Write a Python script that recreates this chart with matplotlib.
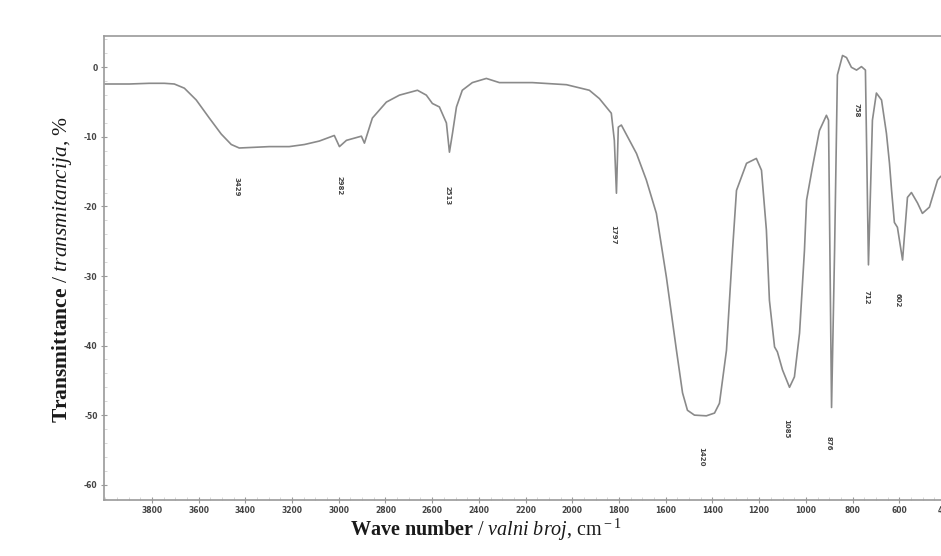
import matplotlib
matplotlib.use("Agg")
import matplotlib.pyplot as plt
from matplotlib.ticker import MultipleLocator

# IR spectrum: wave number (cm-1) and transmittance (%)
wavenumber = [
    4000, 3897, 3811, 3747, 3704, 3661, 3610, 3554, 3503, 3460, 3426,
    3361, 3297, 3212, 3147, 3083, 3019, 2997, 2967, 2903, 2890, 2856,
    2796, 2740, 2663, 2625, 2599, 2569, 2539, 2526, 2513, 2496, 2471,
    2428, 2368, 2312, 2171, 2025, 1927, 1884, 1833, 1820, 1811, 1803,
    1790, 1725, 1683, 1640, 1597, 1554, 1528, 1507, 1477, 1426, 1391,
    1370, 1340, 1314, 1297, 1254, 1212, 1190, 1169, 1156, 1134, 1122,
    1100, 1070, 1049, 1027, 1006, 997, 972, 942, 912, 903, 890,
    877, 865, 843, 826, 805, 783, 762, 745, 732, 715, 698,
    676, 655, 642, 633, 621, 608, 586, 565, 548, 522, 501,
    471, 436, 423,
]
transmittance = [
    -2.4, -2.4, -2.3, -2.3, -2.4, -3.0, -4.7, -7.3, -9.6, -11.1, -11.6,
    -11.5, -11.4, -11.4, -11.1, -10.6, -9.8, -11.4, -10.5, -9.9, -10.9, -7.3,
    -5.0, -4.0, -3.3, -4.0, -5.2, -5.7, -8.0, -12.2, -9.5, -5.7, -3.3,
    -2.2, -1.6, -2.2, -2.2, -2.5, -3.3, -4.5, -6.6, -10.5, -18.1, -8.6,
    -8.3, -12.4, -16.2, -21.0, -30.2, -40.7, -46.8, -49.3, -50.0, -50.1, -49.7,
    -48.3, -40.7, -26.3, -17.7, -13.8, -13.1, -14.8, -23.4, -33.5, -40.2, -40.9,
    -43.5, -46.0, -44.5, -38.2, -26.3, -19.1, -14.4, -9.1, -6.9, -7.6, -48.9,
    -26.3, -1.1, 1.7, 1.4, 0.0, -0.4, 0.1, -0.4, -28.4, -7.6, -3.7,
    -4.7, -9.5, -13.8, -17.7, -22.3, -23.0, -27.7, -18.7, -18.0, -19.5, -21.0,
    -20.1, -16.2, -15.7,
]

# peak labels and where they sit (wave number, transmittance)
peak_labels = ["3429", "2982", "2513", "1797", "1420", "1085", "876", "758", "712", "602"]
peak_label_x = [3439, 2997, 2535, 1824, 1447, 1083, 903, 783, 740, 608]
peak_label_y = [-17.2, -17.0, -18.4, -24.1, -56.0, -51.9, -54.0, -6.2, -33.0, -33.5]

x_ticks = [3800, 3600, 3400, 3200, 3000, 2800, 2600, 2400, 2200, 2000,
           1800, 1600, 1400, 1200, 1000, 800, 600, 400]
y_ticks = [0, -10, -20, -30, -40, -50, -60]

plt.rcParams["font.family"] = ["Liberation Serif", "DejaVu Serif"]
plt.rcParams["mathtext.fontset"] = "custom"
plt.rcParams["mathtext.rm"] = "Liberation Serif"
plt.rcParams["mathtext.bf"] = "Liberation Serif:bold"
plt.rcParams["mathtext.it"] = "Liberation Serif:italic"

W, H = 941, 556
fig = plt.figure(figsize=(W / 100, H / 100), dpi=100)
# right edge of the frame falls just past the picture, as in the scan
ax = fig.add_axes([104 / W, 1 - 500 / H, (946 - 104) / W, (500 - 36) / H])

frame = "#9a9a9a"
ax.plot(wavenumber, transmittance, color="#8a8a8a", linewidth=1.2,
        solid_joinstyle="round")

for lab, lx, ly in zip(peak_labels, peak_label_x, peak_label_y):
    ax.text(lx, ly, lab, rotation=270, ha="center", va="center",
            fontsize=5, color="#444444", family="DejaVu Sans",
            fontweight="bold")

ax.set_xlim(4005, 400)
ax.set_ylim(-62.2, 4.5)
ax.set_xticks(x_ticks)
ax.set_yticks(y_ticks)
ax.set_xticklabels([str(t) for t in x_ticks], fontsize=5.5, color="#444444",
                   family="DejaVu Sans", fontweight="bold")
ax.set_yticklabels([str(t) for t in y_ticks], fontsize=5.5, color="#444444",
                   family="DejaVu Sans", fontweight="bold")
ax.xaxis.set_minor_locator(MultipleLocator(50))
ax.yaxis.set_minor_locator(MultipleLocator(2))
ax.tick_params(axis="both", which="major", direction="inout", length=5,
               width=0.8, color=frame, pad=2)
ax.tick_params(axis="both", which="minor", direction="in", length=2.5,
               width=0.5, color="#c8c8c8")
for side in ("left", "bottom", "top", "right"):
    ax.spines[side].set_color(frame)
    ax.spines[side].set_linewidth(1.2)

fig.text(486 / W, 1 - 530 / H,
         r"$\mathbf{Wave\ number}$ / $\mathit{valni\ broj}$, cm$^{\rm -1}$",
         ha="center", va="center", fontsize=14.5, color="#1a1a1a")
fig.text(62 / W, 1 - 269 / H,
         r"$\mathbf{Transmittance}$ / $\mathit{transmitancija}$, %",
         ha="center", va="center", rotation=90, fontsize=15.5, color="#1a1a1a")

fig.savefig("out.png", dpi=100, facecolor="white")
